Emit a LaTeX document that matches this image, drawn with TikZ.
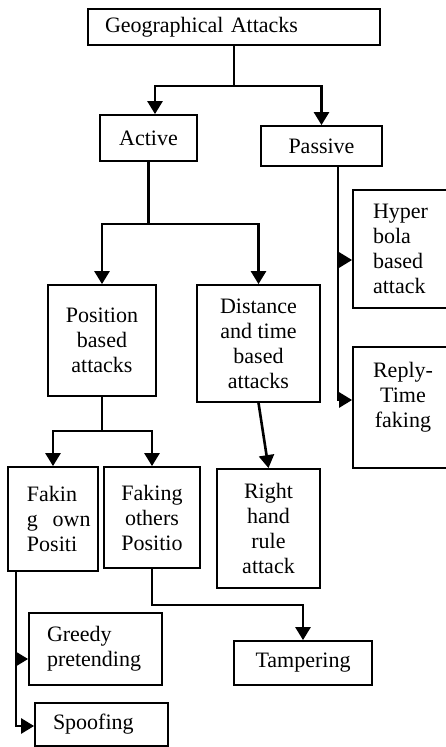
\documentclass[tikz,border=0pt]{standalone}
\usepackage{fontspec}
\setmainfont{Liberation Serif}
\usetikzlibrary{arrows.meta}
\begin{document}
\begin{tikzpicture}[x=1pt,y=-1pt,
  box/.style={draw, line width=1.8pt, inner sep=0pt, align=center,
    font=\fontsize{22pt}{25pt}\selectfont},
  arr/.style={line width=2.6pt, -{Triangle[width=15pt,length=13pt]}}]
  \useasboundingbox (0,0) rectangle (445,747);
  % boxes
  \node[box, minimum width=292pt, minimum height=36pt, text width=258pt, inner xsep=17pt, align=left] (geo) at (234,27) {Geographical Attacks};
  \node[box, minimum width=97pt, minimum height=46pt] (active) at (148.5,138) {Active};
  \node[box, minimum width=121pt, minimum height=40pt] (passive) at (321.5,146) {Passive};
  \node[box, minimum width=100pt, minimum height=118pt, text width=60pt, inner xsep=20pt, align=left] (hyper) at (403,249) {Hyper\\bola\\based\\attack};
  \node[box, minimum width=100pt, minimum height=121pt] (reply) at (403,407.5) {Reply-\\Time\\faking\\\mbox{}};
  \node[box, minimum width=108pt, minimum height=111pt] (pos) at (102,340.5) {Position\\based\\attacks};
  \node[box, minimum width=123pt, minimum height=117pt] (dist) at (258.5,343.5) {Distance\\and time\\based\\attacks};
  \node[box, minimum width=90pt, minimum height=104pt, text width=52pt, inner xsep=19pt, align=left] (own) at (53,519) {Fakin\\\mbox{g\ \ own}\\Positi};
  \node[box, minimum width=96pt, minimum height=101pt] (others) at (152,517.5) {Faking\\others\\Positio};
  \node[box, minimum width=103pt, minimum height=119pt] (right) at (268.5,528.5) {Right\\hand\\rule\\attack};
  \node[box, minimum width=133pt, minimum height=72pt, text width=97pt, inner xsep=18pt, align=left] (greedy) at (95.5,649) {Greedy\\pretending};
  \node[box, minimum width=138pt, minimum height=44pt] (tamper) at (303,663) {Tampering};
  \node[box, minimum width=133pt, minimum height=43pt, text width=97pt, inner xsep=18pt, align=left] (spoof) at (101.5,724.5) {Spoofing};
  % connectors
  \draw[arr] (geo.south) -- ++(0,40) -| ([xshift=6.5pt]active.north);
  \draw[arr] (geo.south) -- ++(0,40) -| (passive.north);
  \draw[arr] (active.south) -- ++(0,62) -| (pos.north);
  \draw[arr] (active.south) -- ++(0,62) -| (dist.north);
  \draw[arr] ([xshift=16.5pt]passive.south) |- ([yshift=-11pt]hyper.west);
  \draw[arr] ([xshift=16.5pt]passive.south) |- ([yshift=7.5pt]reply.west);
  \draw[arr] (pos.south) -- ++(0,34) -| (own.north);
  \draw[arr] (pos.south) -- ++(0,34) -| (others.north);
  \draw[arr] (dist.south) -- (right.north);
  \draw[arr] (others.south) -- ++(0,36) -| (tamper.north);
  \draw[arr] ([xshift=9pt]own.south west) |- ([yshift=-10pt]greedy.west);
  \draw[arr] ([xshift=9pt]own.south west) |- ([yshift=-1.5pt]spoof.west);
\end{tikzpicture}
\end{document}
